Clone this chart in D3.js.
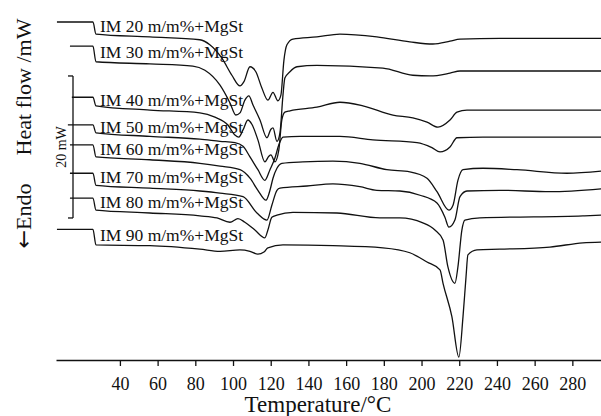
<!DOCTYPE html>
<html>
<head>
<meta charset="utf-8">
<script src="https://cdn.jsdelivr.net/npm/d3@7"></script>
<style>
  body { margin: 0; background: #fff; }
  svg { display: block; font-family: "Liberation Serif", "Times New Roman", serif; }
</style>
</head>
<body>
<svg id="chart" width="601" height="416"></svg>
<script>
// sample names, top to bottom
var labels = ["IM 20 m/m%+MgSt", "IM 30 m/m%+MgSt", "IM 40 m/m%+MgSt", "IM 50 m/m%+MgSt",
              "IM 60 m/m%+MgSt", "IM 70 m/m%+MgSt", "IM 80 m/m%+MgSt", "IM 90 m/m%+MgSt"];

// temperature (°C) and heat flow (mW, curves shifted, endo down) for every sample
var temp20 = [6.6, 25.7, 27.3, 55.9, 82.4, 87.7, 94.1, 99.4, 103.7, 105.8, 109.0, 112.1, 115.3, 118.5, 121.2, 123.8, 125.4, 127.0, 128.6, 131.8, 144.5, 156.7, 176.3, 193.8, 206.0, 215.1, 220.4, 241.6, 295.2];
var flow20 = [-3.1, -3.1, -4.8, -5.2, -5.6, -6.3, -8.2, -10.6, -12.1, -11.5, -9.4, -10.1, -12.4, -14.1, -13.0, -14.2, -13.4, -8.5, -6.3, -5.5, -5.2, -4.8, -5.2, -5.9, -6.2, -5.8, -5.5, -5.4, -5.4];

var temp30 = [13.5, 25.7, 27.3, 55.9, 78.7, 85.1, 93.1, 98.4, 101.5, 103.7, 106.3, 108.4, 110.6, 114.3, 118.0, 120.1, 121.2, 123.3, 124.9, 126.5, 127.5, 130.2, 133.9, 144.5, 179.5, 195.4, 204.5, 215.1, 220.4, 295.2];
var flow30 = [-6.5, -6.5, -8.7, -9.0, -9.3, -9.9, -12.0, -14.5, -16.2, -15.9, -14.1, -13.5, -14.8, -16.9, -19.4, -18.2, -18.0, -19.9, -18.7, -13.4, -11.0, -10.1, -9.4, -9.2, -9.6, -10.6, -10.7, -10.3, -10.0, -10.0];

var temp40 = [14.5, 25.7, 27.3, 55.9, 82.4, 90.4, 97.3, 101.0, 103.1, 105.3, 107.9, 110.0, 113.2, 116.9, 119.0, 120.1, 122.2, 124.3, 125.9, 127.5, 130.2, 144.5, 156.7, 168.9, 184.8, 195.4, 202.9, 208.7, 215.1, 218.8, 224.1, 295.2];
var flow40 = [-13.7, -13.7, -14.9, -15.5, -15.9, -16.5, -17.6, -19.0, -19.3, -18.3, -16.9, -17.5, -19.7, -22.8, -22.0, -21.8, -22.8, -21.1, -16.9, -15.8, -15.6, -15.1, -14.4, -14.9, -16.2, -16.6, -17.2, -17.9, -16.9, -15.8, -15.5, -15.5];

var temp50 = [12.4, 25.7, 27.3, 55.9, 82.4, 93.1, 101.0, 105.3, 109.0, 113.2, 116.9, 119.6, 122.2, 124.3, 126.5, 135.5, 156.7, 174.2, 197.6, 205.5, 209.8, 215.1, 218.8, 232.6, 295.2];
var flow50 = [-17.6, -17.6, -18.7, -19.2, -19.6, -19.9, -20.1, -20.6, -22.1, -23.9, -25.4, -23.9, -22.3, -20.4, -19.3, -19.2, -19.2, -19.7, -20.1, -20.8, -21.4, -20.7, -19.4, -19.3, -19.3];

var temp60 = [13.5, 25.7, 27.3, 55.9, 82.4, 93.1, 103.7, 109.0, 113.2, 117.5, 119.6, 121.2, 123.3, 125.9, 137.1, 153.0, 167.3, 181.6, 193.8, 202.9, 208.2, 214.5, 216.7, 219.3, 222.0, 232.6, 250.6, 277.1, 295.2];
var flow60 = [-20.4, -20.4, -22.1, -22.5, -23.0, -23.4, -23.9, -25.1, -26.8, -28.2, -26.8, -25.1, -23.7, -23.0, -22.8, -22.7, -23.0, -23.9, -24.2, -25.1, -27.0, -29.6, -28.9, -25.4, -23.9, -23.7, -23.9, -24.4, -24.1];

var temp70 = [13.5, 25.7, 27.3, 55.9, 82.4, 93.1, 105.3, 112.7, 118.0, 120.6, 123.3, 124.9, 139.2, 153.0, 167.3, 176.3, 188.5, 199.2, 208.2, 212.4, 214.5, 217.7, 220.4, 224.1, 241.6, 268.1, 295.2];
var flow70 = [-24.4, -24.4, -26.1, -26.5, -26.9, -27.2, -27.7, -30.0, -31.0, -28.9, -26.8, -26.5, -26.2, -25.9, -26.3, -26.8, -26.9, -27.5, -28.6, -30.6, -32.0, -31.0, -27.7, -26.9, -26.8, -27.0, -26.6];

var temp80 = [13.5, 25.7, 27.3, 55.9, 82.4, 91.5, 98.4, 102.6, 106.3, 111.6, 116.9, 118.5, 120.6, 123.3, 131.8, 155.1, 177.9, 188.5, 200.7, 207.1, 211.4, 214.0, 217.7, 219.3, 221.4, 223.0, 231.0, 285.6, 295.2];
var flow80 = [-27.9, -27.9, -29.6, -30.0, -30.4, -30.7, -31.3, -30.8, -31.3, -32.4, -33.5, -32.4, -30.6, -30.3, -29.9, -30.0, -30.7, -30.7, -31.4, -32.4, -33.8, -37.6, -39.9, -37.6, -32.4, -31.0, -30.7, -30.4, -30.3];

var temp90 = [6.6, 25.7, 27.3, 55.9, 82.4, 93.1, 103.7, 109.0, 113.2, 116.4, 118.5, 126.5, 153.0, 179.5, 193.8, 202.9, 209.8, 211.4, 216.1, 219.8, 222.0, 223.6, 224.6, 229.4, 241.6, 268.1, 285.6, 295.2];
var flow90 = [-32.3, -32.3, -34.5, -34.6, -35.1, -35.4, -35.2, -35.4, -35.8, -35.5, -34.9, -34.5, -34.6, -34.9, -35.6, -36.9, -38.0, -39.9, -44.6, -50.3, -44.6, -39.0, -35.9, -35.2, -35.1, -34.8, -34.2, -34.1];

// axis ticks and the size of the scale bar
var tempTicks = [40, 60, 80, 100, 120, 140, 160, 180, 200, 220, 240, 260, 280];
var scaleBarMW = 20;
var scaleBarTop = -10.7;

var temps = [temp20, temp30, temp40, temp50, temp60, temp70, temp80, temp90];
var flows = [flow20, flow30, flow40, flow50, flow60, flow70, flow80, flow90];

var svg = d3.select("#chart");
var ink = "#111";
var serif = "'Liberation Serif', 'Times New Roman', serif";
var axisY = 360;

// scales: temperature to x, heat flow to y
var x = d3.scaleLinear().domain([6.1, 295.2]).range([56, 601]);
var y = d3.scaleLinear().domain([0, -50]).range([0, 355]);

var line = d3.line()
    .x(function(d) { return x(d[0]); })
    .y(function(d) { return y(d[1]); })
    .curve(d3.curveMonotoneX);

// draw the curves
temps.forEach(function(t, i) {
    var pts = t.map(function(v, j) { return [v, flows[i][j]]; });
    svg.append("path")
        .attr("d", line(pts))
        .attr("fill", "none")
        .attr("stroke", ink)
        .attr("stroke-width", 1.3);

    // label sits between the starting level and the level after the step
    var ly = (y(flows[i][0]) + y(flows[i][2])) / 2 + 4;
    svg.append("text")
        .attr("x", 100)
        .attr("y", ly)
        .attr("font-size", 17.5)
        .attr("fill", ink)
        .text(labels[i]);
});

// x axis
var xAxis = d3.axisBottom(x)
    .tickValues(tempTicks)
    .tickSize(6)
    .tickSizeOuter(0)
    .tickPadding(11);

var gx = svg.append("g")
    .attr("transform", "translate(0," + axisY + ")")
    .call(xAxis)
    .attr("font-family", serif)
    .attr("font-size", 18);
gx.select(".domain").attr("stroke", ink).attr("stroke-width", 1.6);
gx.selectAll(".tick line").attr("stroke", ink).attr("stroke-width", 1.3);
gx.selectAll(".tick text").attr("fill", ink);

svg.append("text")
    .attr("x", 318)
    .attr("y", 412)
    .attr("text-anchor", "middle")
    .attr("font-size", 23)
    .attr("fill", ink)
    .text("Temperature/°C");

// y titles
svg.append("text")
    .attr("transform", "translate(31,87) rotate(-90)")
    .attr("text-anchor", "middle")
    .attr("font-size", 22)
    .attr("fill", ink)
    .text("Heat flow /mW");

var endo = svg.append("text")
    .attr("transform", "translate(31,216) rotate(-90)")
    .attr("text-anchor", "middle")
    .attr("font-size", 22)
    .attr("fill", ink);
endo.append("tspan").attr("font-family", "'DejaVu Sans'").text("\u2190");
endo.append("tspan").text("Endo");

// scale bar
var barX = 73;
var y0 = y(scaleBarTop), y1 = y(scaleBarTop - scaleBarMW);
svg.append("line")
    .attr("x1", barX).attr("x2", barX)
    .attr("y1", y0).attr("y2", y1)
    .attr("stroke", ink).attr("stroke-width", 1.3);
[y0, y1].forEach(function(v) {
    svg.append("line")
        .attr("x1", barX - 5).attr("x2", barX)
        .attr("y1", v).attr("y2", v)
        .attr("stroke", ink).attr("stroke-width", 1.3);
});
svg.append("text")
    .attr("transform", "translate(66," + ((y0 + y1) / 2) + ") rotate(-90)")
    .attr("text-anchor", "middle")
    .attr("font-size", 14)
    .attr("fill", ink)
    .text(scaleBarMW + " mW");
</script>
</body>
</html>
